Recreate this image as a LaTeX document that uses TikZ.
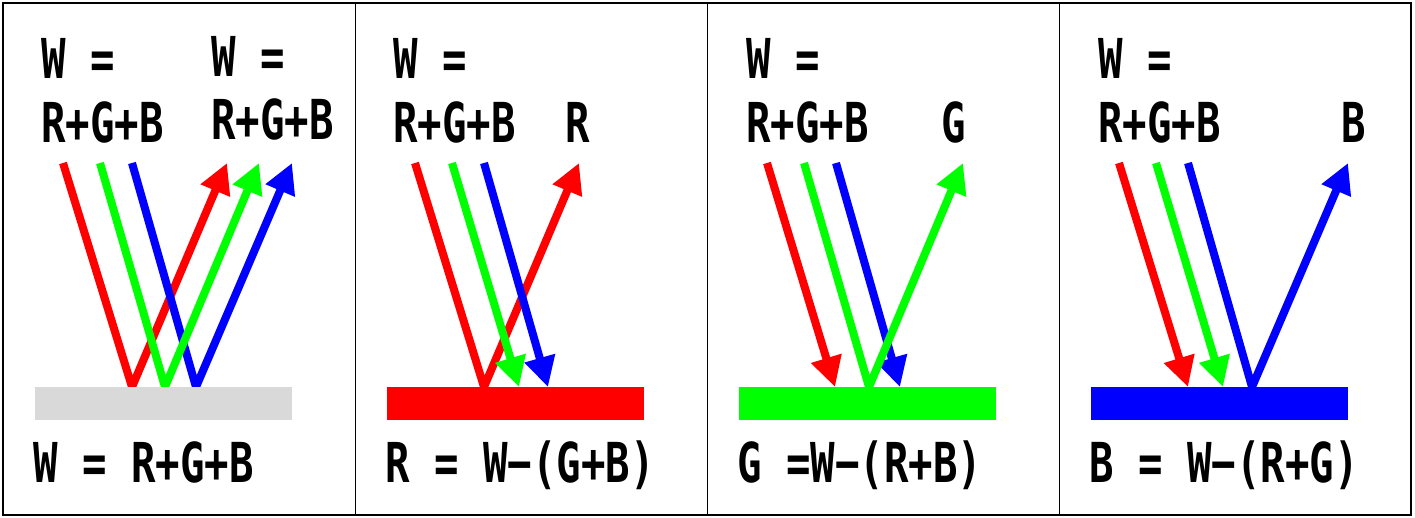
\documentclass[tikz,border=0pt]{standalone}
\usepackage{fontspec}
\usetikzlibrary{arrows.meta}
\newfontfamily\gfont{DejaVu Sans Mono}[FakeStretch=0.74]
\definecolor{rr}{RGB}{255,0,0}
\definecolor{gg}{RGB}{0,255,0}
\definecolor{bb}{RGB}{0,0,255}
\definecolor{surf}{RGB}{217,217,217}
\tikzset{
  lbl/.style={anchor=base west, inner sep=0pt, font=\gfont\bfseries\fontsize{55}{55}\selectfont},
  ray/.style={line width=8pt, line join=miter},
  tip/.style={-{Triangle[length=30pt,width=30pt]}},
  frame/.style={draw=black, line width=1.2pt},
  bar/.style={draw=none, minimum width=257pt, minimum height=33pt, inner sep=0pt, anchor=north west}
}
\begin{document}
\begin{tikzpicture}[x=1pt,y=-1pt]
\useasboundingbox (0,0) rectangle (1415,518);
\fill[white] (0,0) rectangle (1415,518);
% frame
\coordinate (f1) at (3,3);
\coordinate (f2) at (1411,515);
\draw[frame] (f1) rectangle (f2);
\foreach \i/\xx in {1/355.3,2/707.3,3/1059.3}{
  \coordinate (dt\i) at (\xx,3);
  \coordinate (db\i) at (\xx,515);
  \draw[frame] (dt\i) -- (db\i);
}
% ---------- panel 1 ----------
\begin{scope}[shift={(35,0)}]
\coordinate (ar1) at (28,163); \coordinate (br1) at (97,387); \coordinate (cr1) at (192,163);
\coordinate (ag1) at (65,163); \coordinate (bg1) at (130,387); \coordinate (cg1) at (224,163);
\coordinate (ab1) at (97,163); \coordinate (bb1) at (161,387); \coordinate (cb1) at (257,163);
\draw[ray, rr, tip] (ar1) -- (br1) -- (cr1);
\draw[ray, bb, tip] (ab1) -- (bb1) -- (cb1);
\draw[ray, gg, tip] (ag1) -- (bg1) -- (cg1);
\node[bar, fill=surf] (s1) at (0,387) {};
\end{scope}
\node[lbl] (t1a) at (41,79) {W =};
\node[lbl] (t1b) at (41,143) {R+G+B};
\node[lbl] (t1c) at (211,77) {W =};
\node[lbl] (t1d) at (211,140) {R+G+B};
\node[lbl] (t1e) at (33,482) {W = R+G+B};
% ---------- panel 2 ----------
\begin{scope}[shift={(387,0)}]
\coordinate (ar2) at (28,163); \coordinate (br2) at (97,387); \coordinate (cr2) at (192,163);
\coordinate (ag2) at (65,163); \coordinate (bg2) at (132,387);
\coordinate (ab2) at (97,163); \coordinate (bb2) at (161,387);
\draw[ray, rr, tip] (ar2) -- (br2) -- (cr2);
\draw[ray, gg, tip] (ag2) -- (bg2);
\draw[ray, bb, tip] (ab2) -- (bb2);
\node[bar, fill=rr] (s2) at (0,387) {};
\end{scope}
\node[lbl] (t2a) at (393,79) {W =};
\node[lbl] (t2b) at (393,143) {R+G+B};
\node[lbl] (t2c) at (565,143) {R};
\node[lbl] (t2e) at (385,482) {R = W−(G+B)};
% ---------- panel 3 ----------
\begin{scope}[shift={(739,0)}]
\coordinate (ar3) at (28,163); \coordinate (br3) at (96,387);
\coordinate (ag3) at (65,163); \coordinate (bg3) at (130,387); \coordinate (cg3) at (224,163);
\coordinate (ab3) at (97,163); \coordinate (bb3) at (161,387);
\draw[ray, rr, tip] (ar3) -- (br3);
\draw[ray, bb, tip] (ab3) -- (bb3);
\draw[ray, gg, tip] (ag3) -- (bg3) -- (cg3);
\node[bar, fill=gg] (s3) at (0,387) {};
\end{scope}
\node[lbl] (t3a) at (746,79) {W =};
\node[lbl] (t3b) at (746,143) {R+G+B};
\node[lbl] (t3c) at (941,143) {G};
\node[lbl] (t3e) at (737,482) {G =W−(R+B)};
% ---------- panel 4 ----------
\begin{scope}[shift={(1091,0)}]
\coordinate (ar4) at (28,163); \coordinate (br4) at (97,387);
\coordinate (ag4) at (65,163); \coordinate (bg4) at (132,387);
\coordinate (ab4) at (97,163); \coordinate (bb4) at (161,387); \coordinate (cb4) at (257,163);
\draw[ray, rr, tip] (ar4) -- (br4);
\draw[ray, gg, tip] (ag4) -- (bg4);
\draw[ray, bb, tip] (ab4) -- (bb4) -- (cb4);
\node[bar, fill=bb] (s4) at (0,387) {};
\end{scope}
\node[lbl] (t4a) at (1098,79) {W =};
\node[lbl] (t4b) at (1098,143) {R+G+B};
\node[lbl] (t4c) at (1341,143) {B};
\node[lbl] (t4e) at (1089,482) {B = W−(R+G)};
\end{tikzpicture}
\end{document}
